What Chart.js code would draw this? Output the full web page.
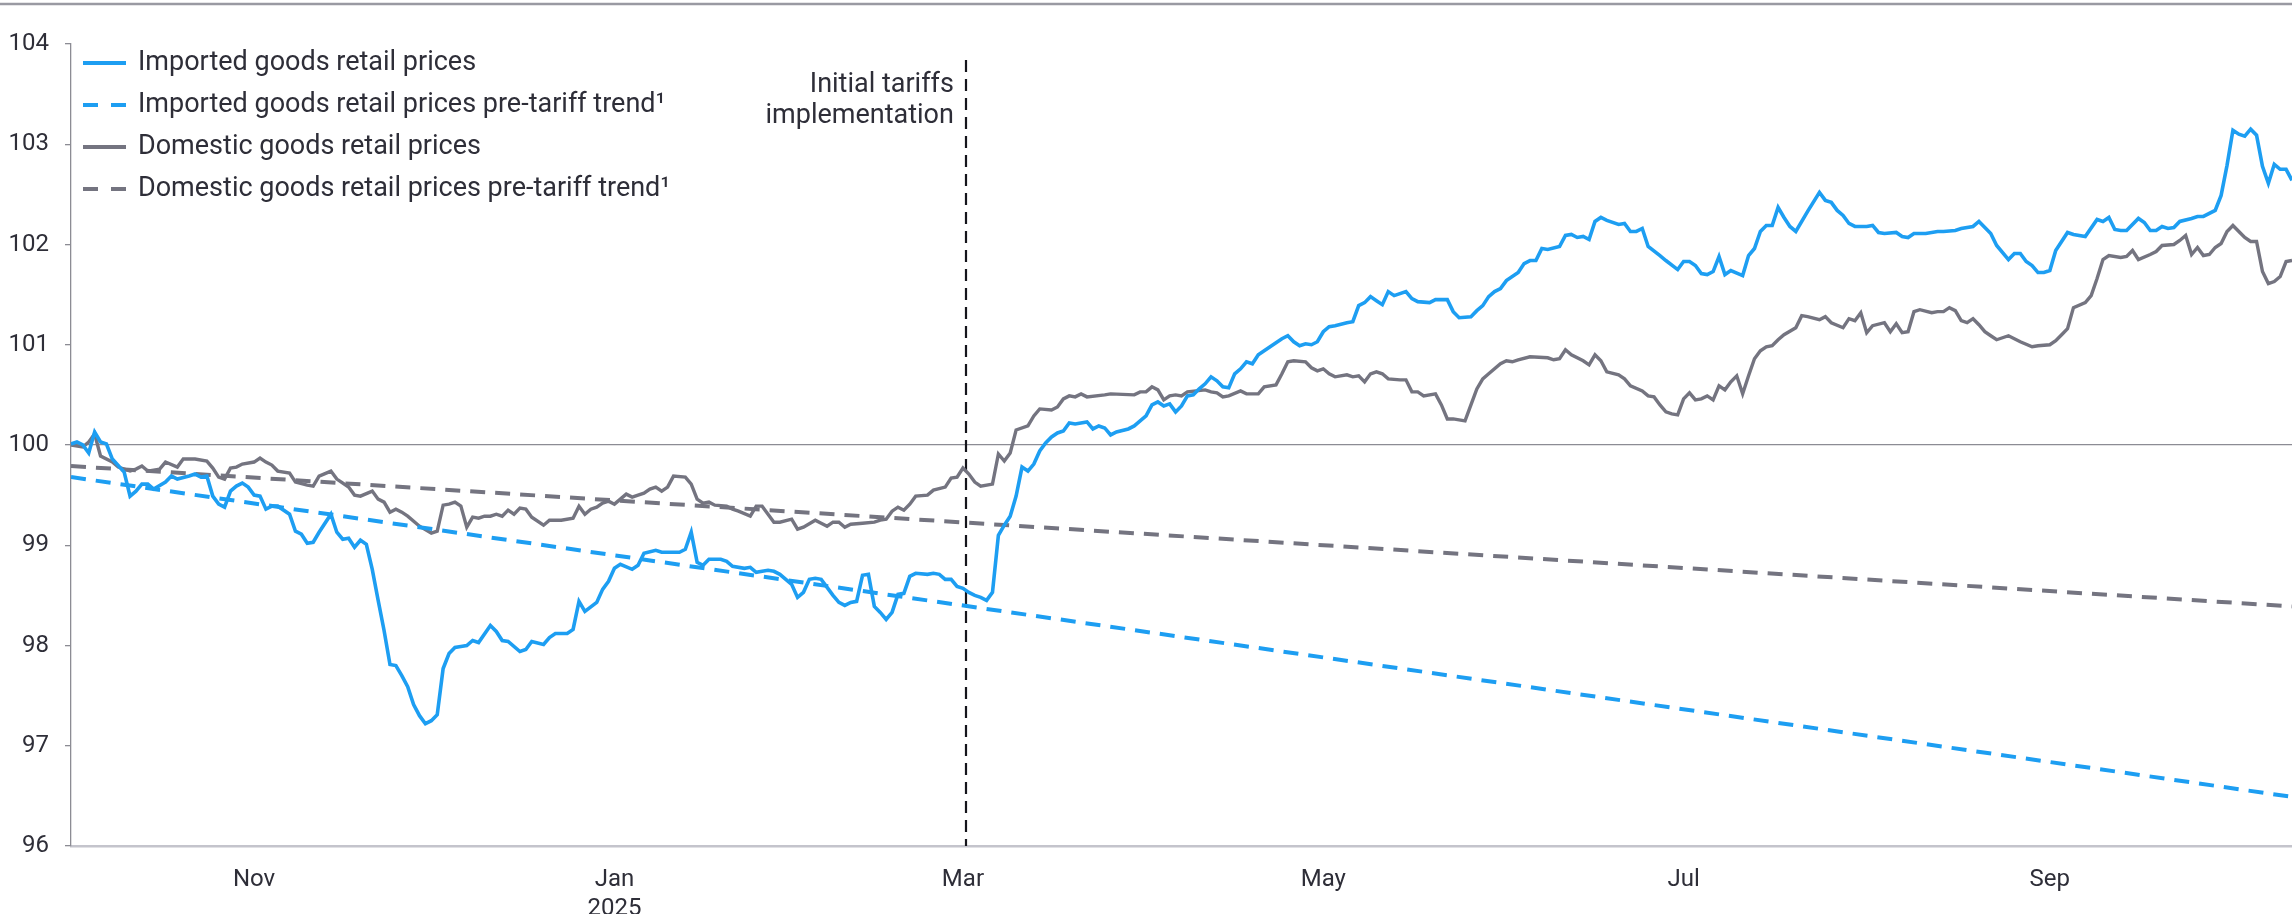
<!DOCTYPE html>
<html>
<head>
<meta charset="utf-8">
<script src="https://cdn.jsdelivr.net/npm/chart.js@4.4.1/dist/chart.umd.min.js"></script>
<style>
html,body{margin:0;padding:0;background:#fff;}
#wrap{width:2292px;height:914px;position:relative;}
canvas{display:block;}
</style>
</head>
<body>
<div id="wrap"><canvas id="c" width="2292" height="914" style="width:2292px;height:914px"></canvas></div>
<script>
// ---- DATA (day 0 = 1 Oct 2024) ----
const seriesNames = [
  "Imported goods retail prices",
  "Imported goods retail prices pre-tariff trend\u00B9",
  "Domestic goods retail prices",
  "Domestic goods retail prices pre-tariff trend\u00B9"
];
const tickDays = [31, 92, 151, 212, 273, 335];
const tickLabels = ["Nov", ["Jan", "2025"], "Mar", "May", "Jul", "Sep"];
const yTickValues = [96, 97, 98, 99, 100, 101, 102, 103, 104];
const annotationLines = ["Initial tariffs", "implementation"];

const importedDays = [0,1,2,3,4,5,6,7,9,10,11,12,13,14,16,17,18,20,21,22,23,24,25,26,27,28,29,30,31,32,33,34,35,37,38,39,40,41,42,44,45,46,47,48,49,50,51,52,53,54,55,56,57,58,59,60,61,62,63,64,65,66,67,68,69,71,72,73,74,76,77,78,80,81,82,84,85,86,87,89,90,91,92,93,95,96,97,99,100,103,104,105,106,107,108,110,111,112,114,115,116,117,118,119,120,122,123,124,125,126,127,128,129,130,131,132,133,134,135,136,137,138,139,140,141,142,143,145,146,147,148,149,150,151,152,153,154,155,156,157,158,159,160,161,162,163,164,165,166,167,168,169,170,172,173,174,175,176,177,179,180,181,182,183,184,185,186,187,188,189,190,191,192,193,194,195,196,197,198,199,200,201,202,204,205,206,207,208,209,210,211,212,213,214,216,217,218,219,220,221,222,223,224,226,227,228,230,231,233,234,235,237,238,239,240,241,242,243,245,246,247,248,249,250,252,253,254,255,256,257,258,259,260,262,263,264,265,266,267,269,270,272,273,274,275,276,277,278,279,280,281,283,284,285,286,287,288,289,290,291,292,294,296,297,298,299,300,301,302,304,305,306,307,309,310,311,312,314,316,317,319,320,322,323,325,326,328,329,330,331,332,333,334,335,336,338,339,341,343,344,345,346,347,348,350,351,352,353,354,355,356,357,359,360,361,363,364,365,366,367,368,369,370,371,372,373,374,375,376];
const importedValues = [100.01,100.03,100.00,99.92,100.13,100.03,100.01,99.86,99.73,99.49,99.54,99.61,99.61,99.56,99.63,99.69,99.66,99.69,99.71,99.68,99.69,99.49,99.41,99.38,99.54,99.59,99.62,99.58,99.50,99.49,99.36,99.39,99.39,99.31,99.14,99.11,99.02,99.03,99.13,99.31,99.13,99.06,99.07,98.98,99.05,99.01,98.76,98.45,98.15,97.81,97.80,97.70,97.59,97.41,97.30,97.22,97.25,97.31,97.77,97.92,97.98,97.99,98.00,98.05,98.03,98.20,98.14,98.05,98.04,97.94,97.96,98.04,98.01,98.08,98.12,98.12,98.16,98.44,98.34,98.43,98.56,98.64,98.77,98.81,98.76,98.80,98.92,98.95,98.93,98.93,98.96,99.13,98.83,98.80,98.86,98.86,98.84,98.79,98.77,98.78,98.73,98.74,98.75,98.74,98.71,98.61,98.48,98.53,98.66,98.67,98.66,98.58,98.50,98.43,98.40,98.43,98.44,98.70,98.71,98.39,98.33,98.26,98.33,98.51,98.52,98.69,98.72,98.71,98.72,98.71,98.66,98.66,98.59,98.57,98.53,98.50,98.48,98.45,98.53,99.10,99.20,99.29,99.49,99.78,99.74,99.81,99.94,100.02,100.08,100.12,100.14,100.22,100.21,100.23,100.16,100.19,100.17,100.10,100.13,100.16,100.19,100.24,100.29,100.40,100.43,100.39,100.41,100.33,100.39,100.49,100.50,100.56,100.61,100.68,100.64,100.58,100.57,100.71,100.76,100.83,100.81,100.90,100.94,101.02,101.06,101.09,101.03,100.99,101.01,101.00,101.03,101.13,101.18,101.19,101.22,101.23,101.39,101.42,101.48,101.44,101.40,101.53,101.49,101.53,101.46,101.43,101.42,101.45,101.45,101.33,101.27,101.28,101.34,101.39,101.48,101.53,101.56,101.64,101.72,101.81,101.84,101.84,101.96,101.95,101.98,102.09,102.10,102.07,102.08,102.05,102.23,102.27,102.24,102.20,102.21,102.13,102.13,102.16,101.98,101.89,101.84,101.75,101.83,101.83,101.79,101.71,101.70,101.73,101.88,101.70,101.74,101.69,101.89,101.96,102.13,102.19,102.19,102.37,102.27,102.18,102.13,102.33,102.52,102.44,102.42,102.34,102.29,102.21,102.18,102.18,102.19,102.12,102.11,102.12,102.08,102.07,102.11,102.11,102.13,102.13,102.14,102.16,102.18,102.23,102.11,101.99,101.85,101.91,101.91,101.83,101.79,101.72,101.72,101.74,101.94,102.12,102.10,102.08,102.25,102.23,102.27,102.15,102.14,102.14,102.26,102.22,102.14,102.14,102.18,102.16,102.17,102.23,102.26,102.28,102.28,102.34,102.49,102.79,103.14,103.10,103.08,103.15,103.09,102.78,102.61,102.80,102.75,102.75,102.64];

const domesticDays = [0,2,3,4,5,7,8,10,11,12,13,15,16,18,19,21,23,24,25,26,27,28,29,31,32,33,34,35,37,38,40,41,42,44,45,47,48,49,51,52,53,54,55,56,57,59,61,62,63,64,65,66,67,68,69,70,71,72,73,74,75,76,77,78,80,81,83,85,86,87,88,89,90,91,92,93,94,95,96,97,98,99,100,101,102,104,105,106,107,108,109,111,112,113,115,116,117,118,119,120,122,123,124,126,127,128,129,130,131,132,134,136,137,138,139,140,141,142,143,145,146,148,149,150,151,152,153,154,156,157,158,159,160,162,163,164,166,167,168,169,170,171,172,175,176,180,181,182,183,184,185,186,187,188,189,192,193,194,195,196,198,199,201,202,204,205,206,207,209,210,211,212,213,214,216,217,218,219,220,221,222,223,225,226,227,228,229,231,232,233,234,236,237,238,239,240,242,243,244,245,247,250,251,252,253,254,256,257,258,259,260,262,263,264,266,267,268,269,270,271,272,273,274,275,276,277,278,279,280,281,282,283,284,285,286,287,288,289,290,292,293,294,296,297,298,300,301,302,303,304,305,307,308,309,310,311,312,313,315,316,317,318,319,320,321,322,323,324,325,326,328,330,332,333,335,336,337,338,339,341,342,343,344,345,347,348,349,350,352,353,354,356,357,358,359,360,361,362,363,364,365,366,367,368,369,370,371,372,373,374,375,376];
const domesticValues = [100.00,99.98,100.03,100.11,99.89,99.83,99.78,99.74,99.76,99.79,99.74,99.76,99.83,99.78,99.86,99.86,99.84,99.77,99.68,99.66,99.77,99.78,99.81,99.83,99.87,99.83,99.80,99.74,99.72,99.63,99.60,99.59,99.69,99.74,99.66,99.58,99.50,99.49,99.54,99.46,99.43,99.33,99.36,99.33,99.29,99.19,99.12,99.14,99.40,99.41,99.43,99.39,99.18,99.28,99.27,99.29,99.29,99.31,99.29,99.35,99.31,99.37,99.36,99.28,99.20,99.25,99.25,99.27,99.39,99.31,99.36,99.38,99.42,99.44,99.41,99.46,99.51,99.48,99.50,99.52,99.56,99.58,99.54,99.58,99.69,99.68,99.61,99.46,99.42,99.43,99.40,99.39,99.36,99.34,99.29,99.39,99.39,99.31,99.23,99.23,99.26,99.16,99.18,99.25,99.22,99.19,99.23,99.23,99.18,99.21,99.22,99.23,99.25,99.26,99.34,99.38,99.35,99.41,99.49,99.50,99.55,99.58,99.67,99.68,99.77,99.71,99.63,99.59,99.61,99.91,99.84,99.92,100.15,100.19,100.29,100.36,100.35,100.38,100.46,100.49,100.48,100.51,100.48,100.50,100.51,100.50,100.53,100.53,100.58,100.55,100.45,100.49,100.50,100.49,100.53,100.55,100.53,100.52,100.48,100.49,100.54,100.51,100.51,100.58,100.60,100.71,100.83,100.84,100.83,100.77,100.74,100.76,100.71,100.68,100.70,100.68,100.69,100.63,100.71,100.73,100.71,100.66,100.65,100.65,100.53,100.53,100.49,100.51,100.40,100.26,100.26,100.24,100.40,100.56,100.66,100.71,100.81,100.84,100.83,100.85,100.88,100.87,100.85,100.86,100.95,100.90,100.84,100.80,100.90,100.84,100.73,100.70,100.66,100.59,100.54,100.49,100.48,100.40,100.33,100.31,100.30,100.46,100.52,100.45,100.46,100.49,100.45,100.59,100.55,100.63,100.69,100.51,100.69,100.86,100.94,100.98,100.99,101.05,101.10,101.17,101.29,101.28,101.25,101.28,101.22,101.17,101.26,101.24,101.32,101.12,101.19,101.22,101.13,101.21,101.12,101.13,101.33,101.35,101.32,101.33,101.33,101.37,101.34,101.24,101.22,101.26,101.20,101.13,101.09,101.05,101.09,101.03,100.98,100.99,101.00,101.04,101.10,101.16,101.37,101.42,101.49,101.66,101.85,101.89,101.87,101.88,101.94,101.85,101.90,101.93,101.99,102.00,102.04,102.09,101.90,101.97,101.89,101.90,101.97,102.01,102.13,102.19,102.13,102.07,102.03,102.03,101.73,101.61,101.63,101.68,101.83,101.84];

const trendDays = [0, 376];
const importedTrendValues = [99.68, 96.49];
const domesticTrendValues = [99.79, 98.39];

// ---- STYLE ----
const BLUE = '#1d9ef2';
const GREY = '#747480';
const TEXT = '#2e2e38';
const FONT = "Roboto, 'Liberation Sans', Arial, sans-serif";
const tariffDay = 151.5;

const pts = (xs, ys) => xs.map((x, i) => ({x: x, y: ys[i]}));

const decor = {
  id: 'decor',
  beforeDatasetsDraw(chart) {
    const {ctx, chartArea, scales} = chart;
    const x = Math.round(scales.x.getPixelForValue(tariffDay));
    ctx.save();
    ctx.strokeStyle = '#15151c';
    ctx.lineWidth = 2.2;
    ctx.setLineDash([12, 7]);
    ctx.beginPath();
    ctx.moveTo(x, chartArea.top + 16);
    ctx.lineTo(x, chartArea.bottom);
    ctx.stroke();
    ctx.restore();
  },
  afterDraw(chart) {
    const {ctx, chartArea, scales} = chart;
    ctx.save();
    // top rule
    ctx.strokeStyle = '#9a9aa2';
    ctx.lineWidth = 2.5;
    ctx.beginPath(); ctx.moveTo(0, 4); ctx.lineTo(chart.width, 4); ctx.stroke();
    // annotation text
    const x = scales.x.getPixelForValue(tariffDay);
    ctx.fillStyle = TEXT;
    ctx.font = "400 27px " + FONT;
    ctx.textAlign = 'right';
    ctx.textBaseline = 'middle';
    annotationLines.forEach((t, i) => ctx.fillText(t, x - 12, chartArea.top + 41 + i * 31));
    // legend
    const ds = chart.data.datasets;
    ds.forEach((d, i) => {
      const y = chartArea.top + 19 + i * 42;
      ctx.strokeStyle = d.borderColor;
      ctx.lineWidth = 4.2;
      ctx.setLineDash(d.borderDash && d.borderDash.length ? [15, 13] : []);
      ctx.beginPath(); ctx.moveTo(chartArea.left + 12, y); ctx.lineTo(chartArea.left + 55, y); ctx.stroke();
      ctx.setLineDash([]);
      ctx.fillStyle = TEXT;
      ctx.textAlign = 'left';
      ctx.fillText(d.label, chartArea.left + 67, y);
    });
    ctx.restore();
  }
};

new Chart(document.getElementById('c'), {
  type: 'line',
  data: {
    datasets: [
      {label: seriesNames[0], data: pts(importedDays, importedValues), borderColor: BLUE, borderWidth: 3.6, pointRadius: 0, tension: 0},
      {label: seriesNames[1], data: pts(trendDays, importedTrendValues), borderColor: BLUE, borderWidth: 4, borderDash: [15, 10], pointRadius: 0},
      {label: seriesNames[2], data: pts(domesticDays, domesticValues), borderColor: GREY, borderWidth: 3.4, pointRadius: 0, tension: 0},
      {label: seriesNames[3], data: pts(trendDays, domesticTrendValues), borderColor: GREY, borderWidth: 4, borderDash: [15, 10], pointRadius: 0}
    ]
  },
  options: {
    responsive: false,
    animation: false,
    devicePixelRatio: 1,
    layout: {padding: {top: 44, right: 0, bottom: 0, left: 0}},
    plugins: {legend: {display: false}, tooltip: {enabled: false}},
    scales: {
      x: {
        type: 'linear', min: 0, max: 376,
        afterBuildTicks: (axis) => { axis.ticks = tickDays.map(v => ({value: v})); },
        afterFit: (s) => { s.height = 68; },
        grid: {display: false},
        border: {display: true, color: '#c4c4cc', width: 2.5},
        ticks: {
          autoSkip: false, maxRotation: 0, padding: 12, color: TEXT,
          font: {family: FONT, size: 24, weight: '400', lineHeight: 1.2},
          callback: (v, i) => tickLabels[i]
        }
      },
      y: {
        min: 96, max: 104,
        afterBuildTicks: (axis) => { axis.ticks = yTickValues.map(v => ({value: v})); },
        afterFit: (s) => { s.width = 71; },
        grid: {
          drawOnChartArea: true, drawTicks: true, tickLength: 6,
          color: (c) => (c.tick && c.tick.value === 100) ? '#8c8c94' : 'rgba(0,0,0,0)',
          tickColor: '#8c8c94', lineWidth: 1.3
        },
        border: {display: true, color: '#8c8c94', width: 1.3},
        ticks: {padding: 16, color: TEXT, font: {family: FONT, size: 24, weight: '400'}}
      }
    }
  },
  plugins: [decor]
});
</script>
</body>
</html>
